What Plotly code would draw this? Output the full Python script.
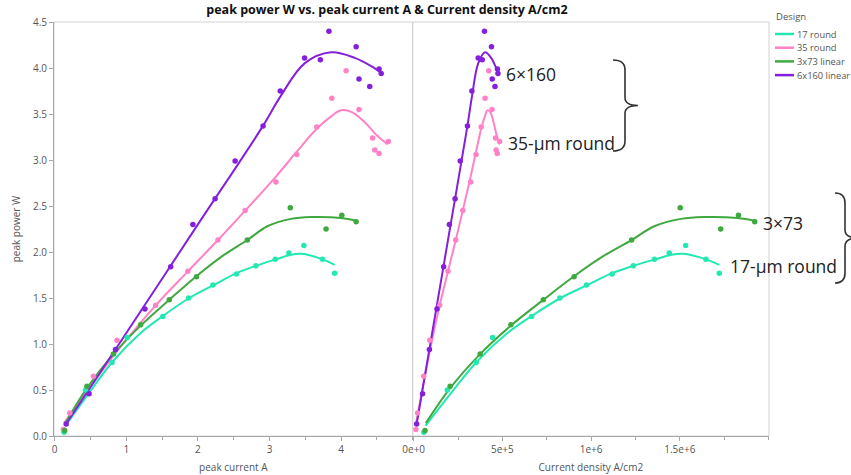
import plotly.graph_objects as go

# ---------------- data ----------------
DESIGNS = ["17 round", "35 round", "3x73 linear", "6x160 linear"]
COLORS = ["#22e8b2", "#ff82c6", "#3fa93f", "#8420dc"]

# measured points: peak current A, current density A/cm2, peak power W
I_17 = [0.13, 0.43, 0.80, 1.01, 1.51, 1.87, 2.21, 2.54, 2.81, 3.08, 3.27, 3.48, 3.74, 3.91]
J_17 = [57270, 189430, 352420, 444930, 665200, 823790, 973570, 1118940, 1237890, 1356830,
        1440530, 1533040, 1647580, 1722470]
P_17 = [0.04, 0.50, 0.80, 1.07, 1.30, 1.50, 1.64, 1.76, 1.85, 1.92, 1.99, 2.07, 1.92, 1.77]

I_35 = [0.12, 0.21, 0.54, 0.87, 1.41, 1.86, 2.28, 2.66, 3.09, 3.38, 3.66, 3.87, 4.07, 4.25,
        4.44, 4.47, 4.53, 4.66]
J_35 = [12470, 21830, 56130, 90430, 146560, 193330, 236980, 276480, 321170, 351320, 380420,
        402250, 423040, 441750, 461490, 464610, 470850, 484360]
P_35 = [0.07, 0.25, 0.65, 1.04, 1.42, 1.79, 2.13, 2.45, 2.76, 3.06, 3.36, 3.67, 3.97, 3.55,
        3.24, 3.11, 3.07, 3.20]

I_3x73 = [0.14, 0.45, 0.82, 1.20, 1.60, 1.98, 2.69, 3.29, 3.79, 4.01, 4.21]
J_3x73 = [63930, 205480, 374430, 547950, 730590, 904110, 1228310, 1502280, 1730590,
          1831050, 1922370]
P_3x73 = [0.06, 0.54, 0.89, 1.21, 1.48, 1.73, 2.13, 2.48, 2.25, 2.40, 2.33]

I_6x160 = [0.16, 0.48, 0.85, 1.26, 1.62, 1.93, 2.24, 2.52, 2.91, 3.15, 3.49, 3.71, 3.83, 4.21,
           4.25, 4.40, 4.53, 4.56]
J_6x160 = [16700, 50000, 88540, 131250, 168750, 201040, 233330, 262500, 303125, 328125,
           363540, 386460, 398960, 438540, 442710, 458330, 471880, 475000]
P_6x160 = [0.13, 0.46, 0.94, 1.38, 1.84, 2.30, 2.58, 2.99, 3.37, 3.75, 4.11, 4.09, 4.40, 4.23,
           3.88, 3.80, 3.99, 3.94]

# smoother curves
SI_17 = [0.15, 0.50, 0.81, 1.20, 1.52, 1.88, 2.22, 2.54, 2.81, 3.09, 3.30, 3.45, 3.74, 3.91]
SJ_17 = [66080, 220260, 356830, 528630, 669600, 828190, 977970, 1118940, 1237890, 1361230,
         1453750, 1519830, 1647580, 1722470]
SP_17 = [0.11, 0.49, 0.81, 1.12, 1.31, 1.50, 1.64, 1.77, 1.85, 1.92, 1.97, 1.98, 1.92, 1.86]

SI_35 = [0.13, 0.54, 0.87, 1.41, 1.86, 2.28, 2.66, 3.09, 3.38, 3.66, 3.87, 4.00, 4.15, 4.33,
         4.51, 4.65]
SJ_35 = [13510, 56130, 90430, 146560, 193330, 236980, 276480, 321170, 351320, 380420, 402250,
         415760, 431350, 450060, 468770, 483320]
SP_35 = [0.14, 0.58, 0.92, 1.42, 1.79, 2.13, 2.45, 2.82, 3.09, 3.34, 3.48, 3.54, 3.52, 3.41,
         3.26, 3.17]

SI_3x73 = [0.15, 0.45, 0.82, 1.20, 1.60, 2.00, 2.35, 2.69, 2.97, 3.30, 3.58, 4.00, 4.21]
SJ_3x73 = [68490, 205480, 374430, 547950, 730590, 913240, 1073060, 1228310, 1356160, 1506850,
           1634700, 1826480, 1922370]
SP_3x73 = [0.14, 0.52, 0.89, 1.20, 1.48, 1.75, 1.96, 2.13, 2.28, 2.36, 2.38, 2.37, 2.34]

SI_6x160 = [0.15, 1.00, 2.00, 2.90, 3.16, 3.49, 3.86, 4.19, 4.42, 4.57]
SJ_6x160 = [15630, 104170, 208330, 302080, 329170, 363540, 402080, 436460, 460420, 476040]
SP_6x160 = [0.12, 1.12, 2.30, 3.36, 3.70, 4.05, 4.17, 4.11, 4.02, 3.94]

Y_TICKS = [0.0, 0.5, 1.0, 1.5, 2.0, 2.5, 3.0, 3.5, 4.0, 4.5]
X1_TICKS = [0, 1, 2, 3, 4]
X2_TICKS = [0, 500000, 1000000, 1500000]
X2_LABELS = ["0e+0", "5e+5", "1e+6", "1.5e+6"]

TITLE = "peak power W vs. peak current A & Current density A/cm2"
LABELS = [("6×160", 504, 74), ("35-µm round", 506, 143), ("3×73", 761, 223), ("17-µm round", 728, 266)]

points = [(I_17, J_17, P_17), (I_35, J_35, P_35), (I_3x73, J_3x73, P_3x73), (I_6x160, J_6x160, P_6x160)]
curves = [(SI_17, SJ_17, SP_17), (SI_35, SJ_35, SP_35), (SI_3x73, SJ_3x73, SP_3x73),
          (SI_6x160, SJ_6x160, SP_6x160)]

# ---------------- layout geometry (pixels) ----------------
W, H = 851, 475
L, R, T, B = 54, 82, 22, 39
PW, PH = W - L - R, H - T - B
SPLIT = (412.7 - L) / PW


def pxx(x):
    return (x - L) / PW


def pxy(y):
    return (H - B - y) / PH


FONT = "Open Sans"
TICKC = "#555555"

fig = go.Figure()

for k, name in enumerate(DESIGNS):
    ci, cj, cp = curves[k]
    fig.add_trace(go.Scatter(x=ci, y=cp, mode="lines", line=dict(color=COLORS[k], width=2, shape="spline", smoothing=1.0),
                             xaxis="x", yaxis="y", showlegend=False, hoverinfo="skip"))
    fig.add_trace(go.Scatter(x=cj, y=cp, mode="lines", line=dict(color=COLORS[k], width=2, shape="spline", smoothing=1.0),
                             xaxis="x2", yaxis="y", showlegend=False, hoverinfo="skip"))

for k, name in enumerate(DESIGNS):
    pi, pj, pp = points[k]
    fig.add_trace(go.Scatter(x=pi, y=pp, mode="markers", name=name, marker=dict(color=COLORS[k], size=5.5),
                             xaxis="x", yaxis="y", showlegend=False))
    fig.add_trace(go.Scatter(x=pj, y=pp, mode="markers", name=name, marker=dict(color=COLORS[k], size=5.5),
                             xaxis="x2", yaxis="y", showlegend=False))

shapes = []
annotations = []

# panel frames
for ref in ["x domain", "x2 domain"]:
    shapes.append(dict(type="rect", xref=ref, yref="y domain", x0=0, x1=1, y0=0, y1=1,
                       line=dict(color="#d2d2d2", width=1), layer="below"))

# manual legend
annotations.append(dict(text="Design", x=pxx(774), y=pxy(17), xref="paper", yref="paper",
                        xanchor="left", yanchor="middle", showarrow=False,
                        font=dict(family=FONT, size=9.5, color="#555555")))
for k, name in enumerate(DESIGNS):
    yy = 34 + k * 13.7
    shapes.append(dict(type="line", xref="paper", yref="paper", x0=pxx(775), x1=pxx(794),
                       y0=pxy(yy), y1=pxy(yy), line=dict(color=COLORS[k], width=2.5)))
    annotations.append(dict(text=name, x=pxx(795), y=pxy(yy), xref="paper", yref="paper",
                            xanchor="left", yanchor="middle", showarrow=False,
                            font=dict(family=FONT, size=9.3, color="#555555")))

# text labels
for txt, x0, yc in LABELS:
    annotations.append(dict(text=txt, x=pxx(x0), y=pxy(yc), xref="paper", yref="paper",
                            xanchor="left", yanchor="middle", showarrow=False,
                            font=dict(family=FONT, size=17.5, color="#222222")))


def brace(xl, xm, xt, yt, yb):
    ym = (yt + yb) / 2
    pts = [("M", xl, yt), ("Q", xm, yt), ("", xm, yt + 10), ("L", xm, ym - 8), ("Q", xm, ym),
           ("", xt, ym), ("Q", xm, ym), ("", xm, ym + 8), ("L", xm, yb - 10), ("Q", xm, yb), ("", xl, yb)]
    s = ""
    for cmd, x, y in pts:
        s += f"{cmd}{pxx(x):.5f},{pxy(y):.5f} "
    return s.strip()


for (xl, xm, xt, yt, yb) in [(613, 625, 638, 60, 151), (835, 845, 858, 193, 283)]:
    shapes.append(dict(type="path", xref="paper", yref="paper", path=brace(xl, xm, xt, yt, yb),
                       line=dict(color="#333333", width=1.6)))

axis_common = dict(showline=True, linecolor="#a8a8a8", linewidth=1, ticks="outside", ticklen=4,
                   tickcolor="#a8a8a8", showgrid=False, zeroline=False, automargin=False,
                   tickfont=dict(family=FONT, size=10, color=TICKC))

fig.update_layout(
    width=W, height=H,
    margin=dict(l=L, r=R, t=T, b=B),
    paper_bgcolor="white", plot_bgcolor="white",
    showlegend=False,
    title=dict(text=TITLE, x=387 / W, xanchor="center", y=1 - 10 / H, yanchor="middle",
               font=dict(family=FONT, size=12.5, color="#111111", weight="bold")),
    xaxis=dict(domain=[0, SPLIT], range=[-0.01, 5.0], tickvals=X1_TICKS, anchor="y",
               minor=dict(ticks="outside", ticklen=3, tickcolor="#a8a8a8", dtick=0.5, tick0=0),
               title=dict(text="peak current A", standoff=8, font=dict(family=FONT, size=10, color=TICKC)),
               **axis_common),
    xaxis2=dict(domain=[SPLIT, 1], range=[-5600, 2002800], tickvals=X2_TICKS, ticktext=X2_LABELS,
                anchor="y",
                minor=dict(ticks="outside", ticklen=3, tickcolor="#a8a8a8", dtick=250000, tick0=0),
                title=dict(text="Current density A/cm2", standoff=8, font=dict(family=FONT, size=10, color=TICKC)),
                **axis_common),
    yaxis=dict(domain=[0, 1], range=[0, 4.5], tickvals=Y_TICKS, tickformat=".1f", anchor="x",
               title=dict(text="peak power W", standoff=10, font=dict(family=FONT, size=10, color=TICKC)),
               **axis_common),
    shapes=shapes,
    annotations=annotations,
)

fig.write_html("out.html")
